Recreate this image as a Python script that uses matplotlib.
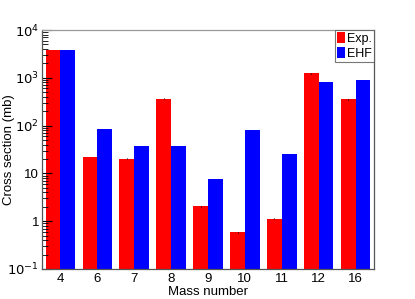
import numpy as np
import matplotlib.pyplot as plt
from matplotlib.ticker import FixedLocator, LogLocator, NullFormatter

plt.rcParams['font.family'] = ['Liberation Sans', 'DejaVu Sans']

# data
mass = ['4', '6', '7', '8', '9', '10', '11', '12', '16']
exp_vals = [3800, 22, 20.4, 366, 2.04, 0.59, 1.13, 1240, 355]
exp_errs = [60, 0.4, 0.4, 6, 0.04, 0.012, 0.02, 20, 6]
ehf_vals = [3800, 84, 38, 37, 7.6, 80, 25, 800, 885]

yticks = [0.1, 1, 10, 100, 1000, 10000]
ylabels = ['$10^{-1}$', '1', '10', '$10^{2}$', '$10^{3}$', '$10^{4}$']

fig = plt.figure(figsize=(4.15, 2.99), dpi=100)
ax = fig.add_axes([42 / 415, 30 / 299, 332 / 415, 239 / 299])

x = np.arange(len(mass))
w = 0.4
ax.bar(x - 0.5 + 0.1, exp_vals, width=w, align='edge', color='#ff0000',
       label='Exp.')
ax.bar(x - 0.5 + 0.1 + w, ehf_vals, width=w, align='edge', color='#0000ff',
       label='EHF')
ax.errorbar(x - 0.5 + 0.1 + w / 2, exp_vals, yerr=exp_errs, fmt='none',
            ecolor='black', elinewidth=0.8, capsize=0)

ax.set_yscale('log')
ax.set_ylim(0.1, 1e4)
ax.set_xlim(-0.5, len(mass) - 0.5)
ax.yaxis.set_major_locator(FixedLocator(yticks))
ax.set_yticklabels(ylabels)
ax.yaxis.set_minor_locator(LogLocator(base=10, subs=np.arange(2, 10)))
ax.yaxis.set_minor_formatter(NullFormatter())
ax.tick_params(axis='y', which='major', length=7, width=0.8, direction='in',
               labelsize=9.5, pad=2)
ax.tick_params(axis='y', which='minor', length=4, width=0.6, direction='in')

ax.set_xticks(x)
ax.set_xticklabels(mass)
ax.tick_params(axis='x', length=0, labelsize=9.5, pad=3)

for s in ax.spines.values():
    s.set_color('#555555')
    s.set_linewidth(0.9)
ax.spines['top'].set_color('#999999')

ax.set_ylabel('Cross section (mb)', fontsize=9.5)
ax.yaxis.set_label_coords(-0.08, 0.5)
ax.set_xlabel('Mass number', fontsize=9.5)
ax.xaxis.set_label_coords(0.5, -0.07)

leg = ax.legend(loc='upper right', fontsize=9, frameon=True, fancybox=False,
                borderaxespad=0, handlelength=0.6, handleheight=1.0,
                handletextpad=0.2, borderpad=0.15, labelspacing=0.2)
leg.get_frame().set_edgecolor('#555555')
leg.get_frame().set_linewidth(0.8)

fig.savefig('out.png', dpi=100)
